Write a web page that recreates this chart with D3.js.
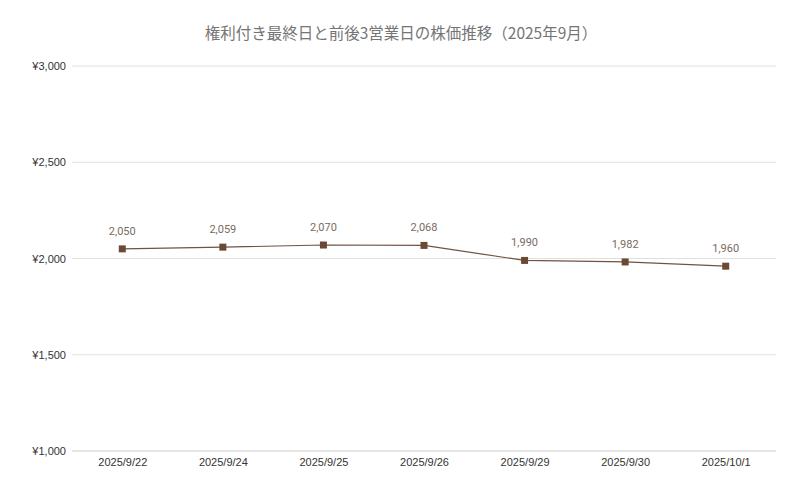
<!DOCTYPE html>
<html>
<head>
<meta charset="utf-8">
<script src="https://cdn.jsdelivr.net/npm/d3@7"></script>
<style>
  body { margin: 0; background: #fff; }
  svg { display: block; font-family: Roboto, "Noto Sans CJK JP", sans-serif; }
</style>
</head>
<body>
<div id="chart"></div>
<script>
// chart data
const dates = ["2025/9/22", "2025/9/24", "2025/9/25", "2025/9/26", "2025/9/29", "2025/9/30", "2025/10/1"];
const prices = [2050, 2059, 2070, 2068, 1990, 1982, 1960];
const yTicks = [1000, 1500, 2000, 2500, 3000];

const W = 800, H = 494;
const margin = {top: 66, right: 24, bottom: 43, left: 72};
const width = W - margin.left - margin.right,
    height = H - margin.top - margin.bottom;

const svg = d3.select("#chart")
  .append("svg")
    .attr("width", W)
    .attr("height", H);

svg.append("text")
  .attr("x", W / 2 + 1)
  .attr("y", 39)
  .attr("text-anchor", "middle")
  .style("font-family", "'Noto Sans CJK JP', sans-serif")
  .style("font-size", "15.5px")
  .style("fill", "#757575")
  .text("権利付き最終日と前後3営業日の株価推移（2025年9月）");

const g = svg.append("g")
  .attr("transform", `translate(${margin.left},${margin.top})`);

const x = d3.scalePoint()
  .domain(dates)
  .range([0, width])
  .padding(0.5);

const y = d3.scaleLinear()
  .domain([1000, 3000])
  .range([height, 0]);

// gridlines
g.append("g")
  .selectAll("line")
  .data(yTicks)
  .join("line")
    .attr("x1", 0)
    .attr("x2", width)
    .attr("y1", d => y(d))
    .attr("y2", d => y(d))
    .attr("stroke", d => d === 1000 ? "#cccccc" : "#e0e0e0")
    .attr("stroke-width", 1);

// y axis labels
const yAxis = g.append("g")
  .call(d3.axisLeft(y).tickValues(yTicks).tickSize(0).tickPadding(6)
    .tickFormat(d => "¥" + d3.format(",")(d)));
yAxis.select(".domain").remove();
yAxis.selectAll("text")
  .style("font-family", "'Liberation Sans', Arial, sans-serif")
  .style("font-size", "11px")
  .style("fill", "#333");

// x axis labels
const xAxis = g.append("g")
  .attr("transform", `translate(0,${height})`)
  .call(d3.axisBottom(x).tickSize(0).tickPadding(7));
xAxis.select(".domain").remove();
xAxis.selectAll("text")
  .style("font-family", "'Liberation Sans', Arial, sans-serif")
  .style("font-size", "11px")
  .style("fill", "#333");

const data = dates.map((d, i) => ({date: d, value: prices[i]}));

// line
g.append("path")
  .datum(data)
  .attr("fill", "none")
  .attr("stroke", "#6e5444")
  .attr("stroke-width", 1.2)
  .attr("d", d3.line().x(d => x(d.date)).y(d => y(d.value)));

// markers
g.selectAll("rect.marker")
  .data(data)
  .join("rect")
    .attr("class", "marker")
    .attr("x", d => x(d.date) - 3.5)
    .attr("y", d => y(d.value) - 3.5)
    .attr("width", 7)
    .attr("height", 7)
    .attr("fill", "#6b4a35");

// value labels
g.selectAll("text.label")
  .data(data)
  .join("text")
    .attr("class", "label")
    .attr("x", d => x(d.date))
    .attr("y", d => y(d.value) - 14)
    .attr("text-anchor", "middle")
    .style("font-size", "11px")
    .style("fill", "#7a6a5e")
    .text(d => d3.format(",")(d.value));
</script>
</body>
</html>
